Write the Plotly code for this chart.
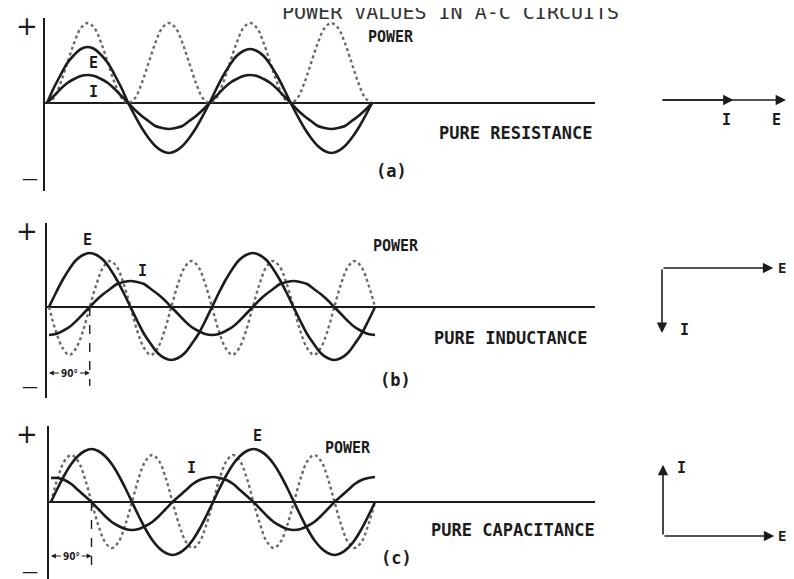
"""Power values in a-c circuits: E, I and power waves for R, L and C loads."""

import math

import plotly.graph_objects as go

W, H = 794, 579
INK = "#1c1c1c"
DOT = "#6a6a6a"
MONO = "DejaVu Sans Mono, Liberation Mono, monospace"

# phase angle in degrees, one sample every 15 degrees over two cycles
PHASE = list(range(0, 721, 15))

# (a) pure resistance
E_RES = [0, 15, 28, 40, 48, 54, 56, 54, 48, 40, 28, 15, 0, -13, -25, -35, -43, -48, -50, -48, -43, -35, -25, -13,
         0, 14, 27, 38, 47, 52, 54, 52, 47, 38, 27, 14, 0, -13, -25, -35, -43, -48, -50, -48, -43, -35, -25, -13, 0]
I_RES = [0, 7, 14, 20, 24, 27, 28, 27, 24, 20, 14, 7, 0, -7, -13, -18, -23, -25, -26, -25, -23, -18, -13, -7,
         0, 7, 14, 20, 24, 27, 28, 27, 24, 20, 14, 7, 0, -7, -13, -18, -23, -25, -26, -25, -23, -18, -13, -7, 0]
P_RES = [0, 5, 20, 40, 60, 75, 80, 75, 60, 40, 20, 5, 0, 5, 20, 40, 60, 75, 80, 75, 60, 40, 20, 5,
         0, 5, 20, 40, 60, 75, 80, 75, 60, 40, 20, 5, 0, 5, 20, 40, 60, 75, 80, 75, 60, 40, 20, 5, 0]

# (b) pure inductance
E_IND = [0, 14, 27, 38, 47, 52, 54, 52, 47, 38, 27, 14, 0, -14, -27, -37, -46, -51, -53, -51, -46, -37, -27, -14,
         0, 14, 27, 38, 47, 52, 54, 52, 47, 38, 27, 14, 0, -14, -27, -37, -46, -51, -53, -51, -46, -37, -27, -14, 0]
I_IND = [-28, -27, -24, -20, -14, -7, 0, 7, 13, 18, 23, 25, 26, 25, 23, 18, 13, 7, 0, -7, -14, -20, -24, -27,
         -28, -27, -24, -20, -14, -7, 0, 7, 13, 18, 23, 25, 26, 25, 23, 18, 13, 7, 0, -7, -14, -20, -24, -27, -28]
P_IND = [0, -24, -41, -48, -41, -24, 0, 23, 40, 46, 40, 23, 0, -24, -41, -48, -41, -24, 0, 23, 40, 46, 40, 23,
         0, -24, -41, -48, -41, -24, 0, 23, 40, 46, 40, 23, 0, -24, -41, -48, -41, -24, 0, 23, 40, 46, 40, 23, 0]

# (c) pure capacitance
E_CAP = [0, 14, 27, 38, 46, 51, 53, 51, 46, 38, 27, 14, 0, -14, -27, -38, -46, -51, -53, -51, -46, -38, -27, -14,
         0, 14, 27, 38, 46, 51, 53, 51, 46, 38, 27, 14, 0, -14, -27, -38, -46, -51, -53, -51, -46, -38, -27, -14, 0]
I_CAP = [24, 24, 22, 18, 12, 6, 0, -7, -14, -20, -24, -27, -28, -27, -24, -20, -14, -7, 0, 6, 12, 18, 22, 24,
         25, 24, 22, 18, 12, 6, 0, -7, -14, -20, -24, -27, -28, -27, -24, -20, -14, -7, 0, 6, 12, 18, 22, 24, 25]
P_CAP = [0, 24, 41, 47, 41, 24, 0, -23, -40, -46, -40, -23, 0, 24, 41, 47, 41, 24, 0, -23, -40, -46, -40, -23,
         0, 24, 41, 47, 41, 24, 0, -23, -40, -46, -40, -23, 0, 24, 41, 47, 41, 24, 0, -23, -40, -46, -40, -23, 0]

PHASE_SHIFT = [0, 90, 90]          # degrees between E and I
E_MAG = [1.0, 0.89, 0.89]          # phasor lengths, relative
I_MAG = [0.58, 0.52, 0.57]
I_ANGLE = [0, -90, 90]             # phasor direction of I (E is at 0)
CIRCUITS = ["PURE RESISTANCE", "PURE INDUCTANCE", "PURE CAPACITANCE"]
TAGS = ["(a)", "(b)", "(c)"]


def px(x):
    return x / W


def py(y):
    return 1 - y / H


# panel geometry in page pixels: origin x, zero-line y, axis top, axis bottom, px per degree
PANELS = [
    dict(ox=39, oy=95, top=10, bot=183, s=0.4514),
    dict(ox=41, oy=299, top=215, bot=390, s=0.4528),
    dict(ox=43, oy=494, top=418, bot=575, s=0.4500),
]
AXIS_END = 587

series = [(E_RES, I_RES, P_RES), (E_IND, I_IND, P_IND), (E_CAP, I_CAP, P_CAP)]

fig = go.Figure()
layout = {}
for k, (p, (e, i, pw)) in enumerate(zip(PANELS, series)):
    sfx = "" if k == 0 else str(k + 1)
    xa, ya = "x" + sfx, "y" + sfx
    fig.add_trace(go.Scatter(x=PHASE, y=pw, mode="lines", xaxis=xa, yaxis=ya,
                             line=dict(color=DOT, width=2.4, dash="dot", shape="spline")))
    fig.add_trace(go.Scatter(x=PHASE, y=i, mode="lines", xaxis=xa, yaxis=ya,
                             line=dict(color=INK, width=2.6, shape="spline")))
    fig.add_trace(go.Scatter(x=PHASE, y=e, mode="lines", xaxis=xa, yaxis=ya,
                             line=dict(color=INK, width=2.6, shape="spline")))
    pad = 4
    layout["xaxis" + sfx] = dict(
        domain=[px(p["ox"] - pad * p["s"]), px(AXIS_END)],
        range=[-pad, (AXIS_END - p["ox"]) / p["s"]],
        visible=True, showline=False, showgrid=False, zeroline=False,
        showticklabels=False, ticks="", anchor=ya, fixedrange=True,
    )
    layout["yaxis" + sfx] = dict(
        domain=[py(p["bot"]), py(p["top"])],
        range=[p["oy"] - p["bot"], p["oy"] - p["top"]],
        showline=True, linecolor=INK, linewidth=1.6,
        zeroline=True, zerolinecolor=INK, zerolinewidth=1.6,
        showgrid=False, showticklabels=False, ticks="", anchor=xa, fixedrange=True,
    )

fig.update_layout(**layout)

ann = []


def label(text, x, y, size=16, bold=True, family=MONO, color=INK, xanchor="center"):
    t = f"<b>{text}</b>" if bold else text
    ann.append(dict(text=t, x=px(x), y=py(y), xref="paper", yref="paper", showarrow=False,
                    xanchor=xanchor, yanchor="middle",
                    font=dict(family=family, size=size, color=color)))


# title (cut off at the top edge in the scan)
label("POWER VALUES IN A-C CIRCUITS", 272, 4, size=20, bold=False, color="#333", xanchor="left")

# plus / minus signs
for p in PANELS:
    label("+", 19, p["top"] + 8, size=26, bold=False, family="DejaVu Sans")
    label("\u2014", 22, min(p["bot"] - 12, 566), size=16, bold=False, family="DejaVu Sans")

# wave labels
label("E", 85, 55, size=15)
label("I", 85, 84, size=15)
label("POWER", 383, 29, size=15)
label("E", 79, 232, size=15)
label("I", 134, 263, size=15)
label("POWER", 388, 238, size=15)
label("I", 183, 460, size=15)
label("E", 250, 428, size=15)
label("POWER", 340, 440, size=15)

# circuit names and panel tags
for name, x, y in zip(CIRCUITS, [508, 503, 505], [125, 330, 522]):
    label(name, x, y, size=17)
for tag, (x, y) in zip(TAGS, [(383, 163), (387, 372), (388, 550)]):
    label(tag, x, y, size=17)

# 90 degree dimension marks in (b) and (c)
for k, ybot, ydim in [(1, -79, -66), (2, -69, -54)]:
    sfx = str(k + 1)
    sh = PHASE_SHIFT[k]
    fig.add_shape(type="line", xref="x" + sfx, yref="y" + sfx, x0=sh, x1=sh, y0=0, y1=ybot,
                  line=dict(color=INK, width=1.4, dash="dash"))
    for tip, tail in [(0, sh * 0.28), (sh, sh * 0.72)]:
        ann.append(dict(x=tip, y=ydim, ax=tail, ay=ydim, xref="x" + sfx, yref="y" + sfx,
                        axref="x" + sfx, ayref="y" + sfx, text="", showarrow=True,
                        arrowhead=2, arrowsize=0.8, arrowwidth=1.2, arrowcolor=INK))
    ann.append(dict(text=f"<b>{sh}°</b>", x=sh / 2, y=ydim, xref="x" + sfx, yref="y" + sfx,
                    showarrow=False, font=dict(family="DejaVu Sans Condensed, DejaVu Sans", size=10, color=INK)))

# phasor diagrams
PH_ORIGIN = [(653, 92), (654, 260), (655, 528)]
PH_SCALE = 125
for k, (ox, oy) in enumerate(PH_ORIGIN):
    for mag, ang in [(I_MAG[k], I_ANGLE[k]), (E_MAG[k], 0)]:
        L = mag * PH_SCALE
        tx = ox + L * math.cos(math.radians(ang))
        ty = oy - L * math.sin(math.radians(ang))
        ann.append(dict(x=px(tx), y=py(ty), xref="paper", yref="paper", text="",
                        showarrow=True, ax=ox - tx, ay=oy - ty, arrowhead=2, arrowsize=1.3,
                        arrowwidth=1.6, arrowcolor=INK, standoff=0))

label("I", 718, 112, size=15)
label("E", 768, 112, size=15)
label("E", 774, 260, size=14)
label("I", 676, 322, size=15)
label("I", 673, 460, size=15)
label("E", 774, 528, size=14)

fig.update_layout(
    width=W, height=H,
    margin=dict(l=0, r=0, t=0, b=0),
    paper_bgcolor="white", plot_bgcolor="white",
    showlegend=False, hovermode=False,
    annotations=ann,
)

fig.write_html("out.html", config={"displayModeBar": False})
